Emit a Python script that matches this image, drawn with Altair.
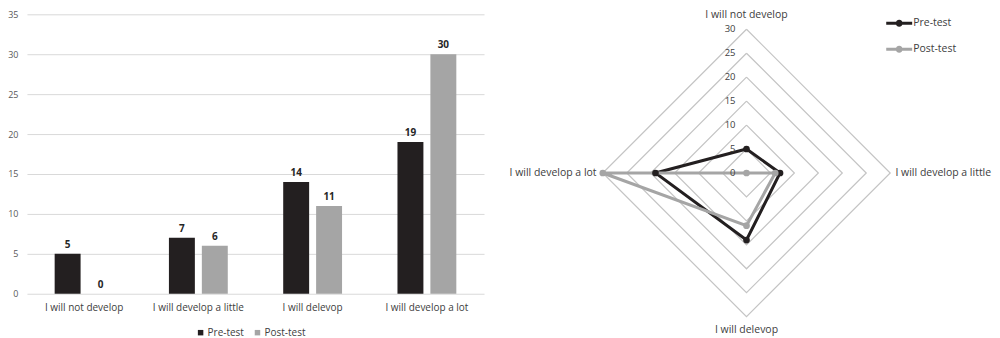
import altair as alt
import pandas as pd
import numpy as np

categories = ["I will not develop", "I will develop a little", "I will delevop", "I will develop a lot"]
series = ["Pre-test", "Post-test"]
pre_values = [5, 7, 14, 19]
post_values = [0, 6, 11, 30]
y_ticks = [0, 5, 10, 15, 20, 25, 30, 35]
radar_ticks = [0, 5, 10, 15, 20, 25, 30]

colors = ["#231f20", "#a5a5a5"]
FONT = "Open Sans"

# ---------------- bar chart ----------------
bar_df = pd.DataFrame({
    "category": categories * 2,
    "series": ["Pre-test"] * 4 + ["Post-test"] * 4,
    "value": pre_values + post_values,
})

x = alt.X("category:N", sort=categories,
          scale=alt.Scale(paddingInner=0.485, paddingOuter=0.2425),
          axis=alt.Axis(title=None, labelAngle=0, ticks=False, domain=False,
                        labelFontSize=10, labelColor="#404040", labelPadding=9,
                        labelFont=FONT))
xo = alt.XOffset("series:N", sort=series,
                 scale=alt.Scale(paddingInner=0.212, paddingOuter=0))
y = alt.Y("value:Q", scale=alt.Scale(domain=[0, 36.75], nice=False, zero=True),
          axis=alt.Axis(values=y_ticks, title=None, ticks=False, domain=False,
                        gridColor="#d9d9d9", labelFontSize=9, labelColor="#595959",
                        labelPadding=9, labelFont=FONT))
color = alt.Color("series:N", sort=series,
                  scale=alt.Scale(domain=series, range=colors),
                  legend=alt.Legend(title=None, orient="none", direction="horizontal",
                                    legendX=169, legendY=328, symbolType="square",
                                    symbolSize=30, labelFontSize=10, labelColor="#404040",
                                    labelFont=FONT, columnPadding=8, labelOffset=2,
                                    symbolStrokeWidth=0))

bbase = alt.Chart(bar_df)
bars = bbase.mark_bar().encode(x=x, xOffset=xo, y=y, color=color)
bar_labels = bbase.mark_text(dy=-9, fontWeight="bold", fontSize=10, color="#262626",
                             font=FONT).encode(x=x, xOffset=xo, y=y, text="value:Q")
bar_chart = alt.layer(bars, bar_labels).properties(width=458, height=294)

# ---------------- radar chart ----------------
ang = np.array([0.0, 90.0, 180.0, 270.0]) * np.pi / 180.0  # top, right, bottom, left

rows = []
for s, vals in zip(series, [pre_values, post_values]):
    for i in range(5):
        k = i % 4
        rows.append({"series": s, "line_series": s, "order": i, "category": categories[k],
                     "x": vals[k] * np.sin(ang[k]), "y": vals[k] * np.cos(ang[k]),
                     "point": i < 4})
rad_df = pd.DataFrame(rows)

grid_rows = []
for lvl in radar_ticks[1:]:
    for i in range(5):
        k = i % 4
        grid_rows.append({"level": lvl, "order": i,
                          "x": lvl * np.sin(ang[k]), "y": lvl * np.cos(ang[k])})
grid_df = pd.DataFrame(grid_rows)

tick_df = pd.DataFrame({"r": radar_ticks, "label": [str(t) for t in radar_ticks]})
tick_df["x"] = 0.0
tick_df["y"] = tick_df["r"]

rmax = radar_ticks[-1]
lab_df = pd.DataFrame({"category": categories})
lab_df["pad"] = [2.9, 1.1, 2.7, 1.3]
lab_df["x"] = (rmax + lab_df["pad"]) * np.sin(ang)
lab_df["y"] = (rmax + lab_df["pad"]) * np.cos(ang)

rx = alt.Scale(domain=[-51.25, 52.92], nice=False, zero=False)
ry = alt.Scale(domain=[-34.38, 36.04], nice=False, zero=False)
X = lambda f="x": alt.X(f"{f}:Q", scale=rx, axis=None)
Y = lambda f="y": alt.Y(f"{f}:Q", scale=ry, axis=None)

grid = alt.Chart(grid_df).mark_line(color="#c4c4c4", strokeWidth=1.2).encode(
    x=X(), y=Y(), detail="level:N", order="order:Q")

stroke = alt.Stroke("line_series:N", sort=series,
                    scale=alt.Scale(domain=series, range=colors), legend=None)
lines = alt.Chart(rad_df).mark_line(strokeWidth=3).encode(
    x=X(), y=Y(), stroke=stroke, detail="line_series:N", order="order:Q")

legend_path = ("M-1,-0.11L1,-0.11L1,0.11L-1,0.11Z"
               "M-0.27,0A0.27,0.27 0 1,1 0.27,0A0.27,0.27 0 1,1 -0.27,0Z")
fill = alt.Fill("series:N", sort=series, scale=alt.Scale(domain=series, range=colors),
                legend=alt.Legend(title=None, orient="none", direction="vertical",
                                  legendX=386, legendY=10, symbolType=legend_path,
                                  symbolSize=676, symbolStrokeWidth=0,
                                  labelFontSize=10.5, labelColor="#404040", labelFont=FONT,
                                  labelOffset=1, rowPadding=7))
points = alt.Chart(rad_df).transform_filter("datum.point").mark_point(
    filled=True, size=45, opacity=1, strokeWidth=0).encode(x=X(), y=Y(), fill=fill)

ticks_txt = alt.Chart(tick_df).mark_text(align="right", baseline="middle", dx=-11,
                                         fontSize=9.5, color="#404040", font=FONT).encode(
    x=X(), y=Y(), text="label:N")

LFS = 10.5
lab_center = alt.Chart(lab_df).transform_filter(
    "datum.category == 'I will not develop' || datum.category == 'I will delevop'"
).mark_text(align="center", baseline="middle", fontSize=LFS, color="#404040", font=FONT).encode(
    x=X(), y=Y(), text="category:N")
lab_right = alt.Chart(lab_df).transform_filter(
    "datum.category == 'I will develop a little'"
).mark_text(align="left", baseline="middle", fontSize=LFS, color="#404040", font=FONT).encode(
    x=X(), y=Y(), text="category:N")
lab_left = alt.Chart(lab_df).transform_filter(
    "datum.category == 'I will develop a lot'"
).mark_text(align="right", baseline="middle", fontSize=LFS, color="#404040", font=FONT).encode(
    x=X(), y=Y(), text="category:N")

radar = alt.layer(grid, lines, points, ticks_txt, lab_center, lab_right, lab_left).properties(
    width=500, height=338)

chart = alt.hconcat(bar_chart, radar, spacing=17).resolve_legend(fill="independent").properties(
    padding={"left": 7, "top": 0, "right": 0, "bottom": 0},
    background="white",
).configure(font=FONT).configure_view(stroke=None)

chart.save("out.html", embed_options={"renderer": "svg", "actions": False})
